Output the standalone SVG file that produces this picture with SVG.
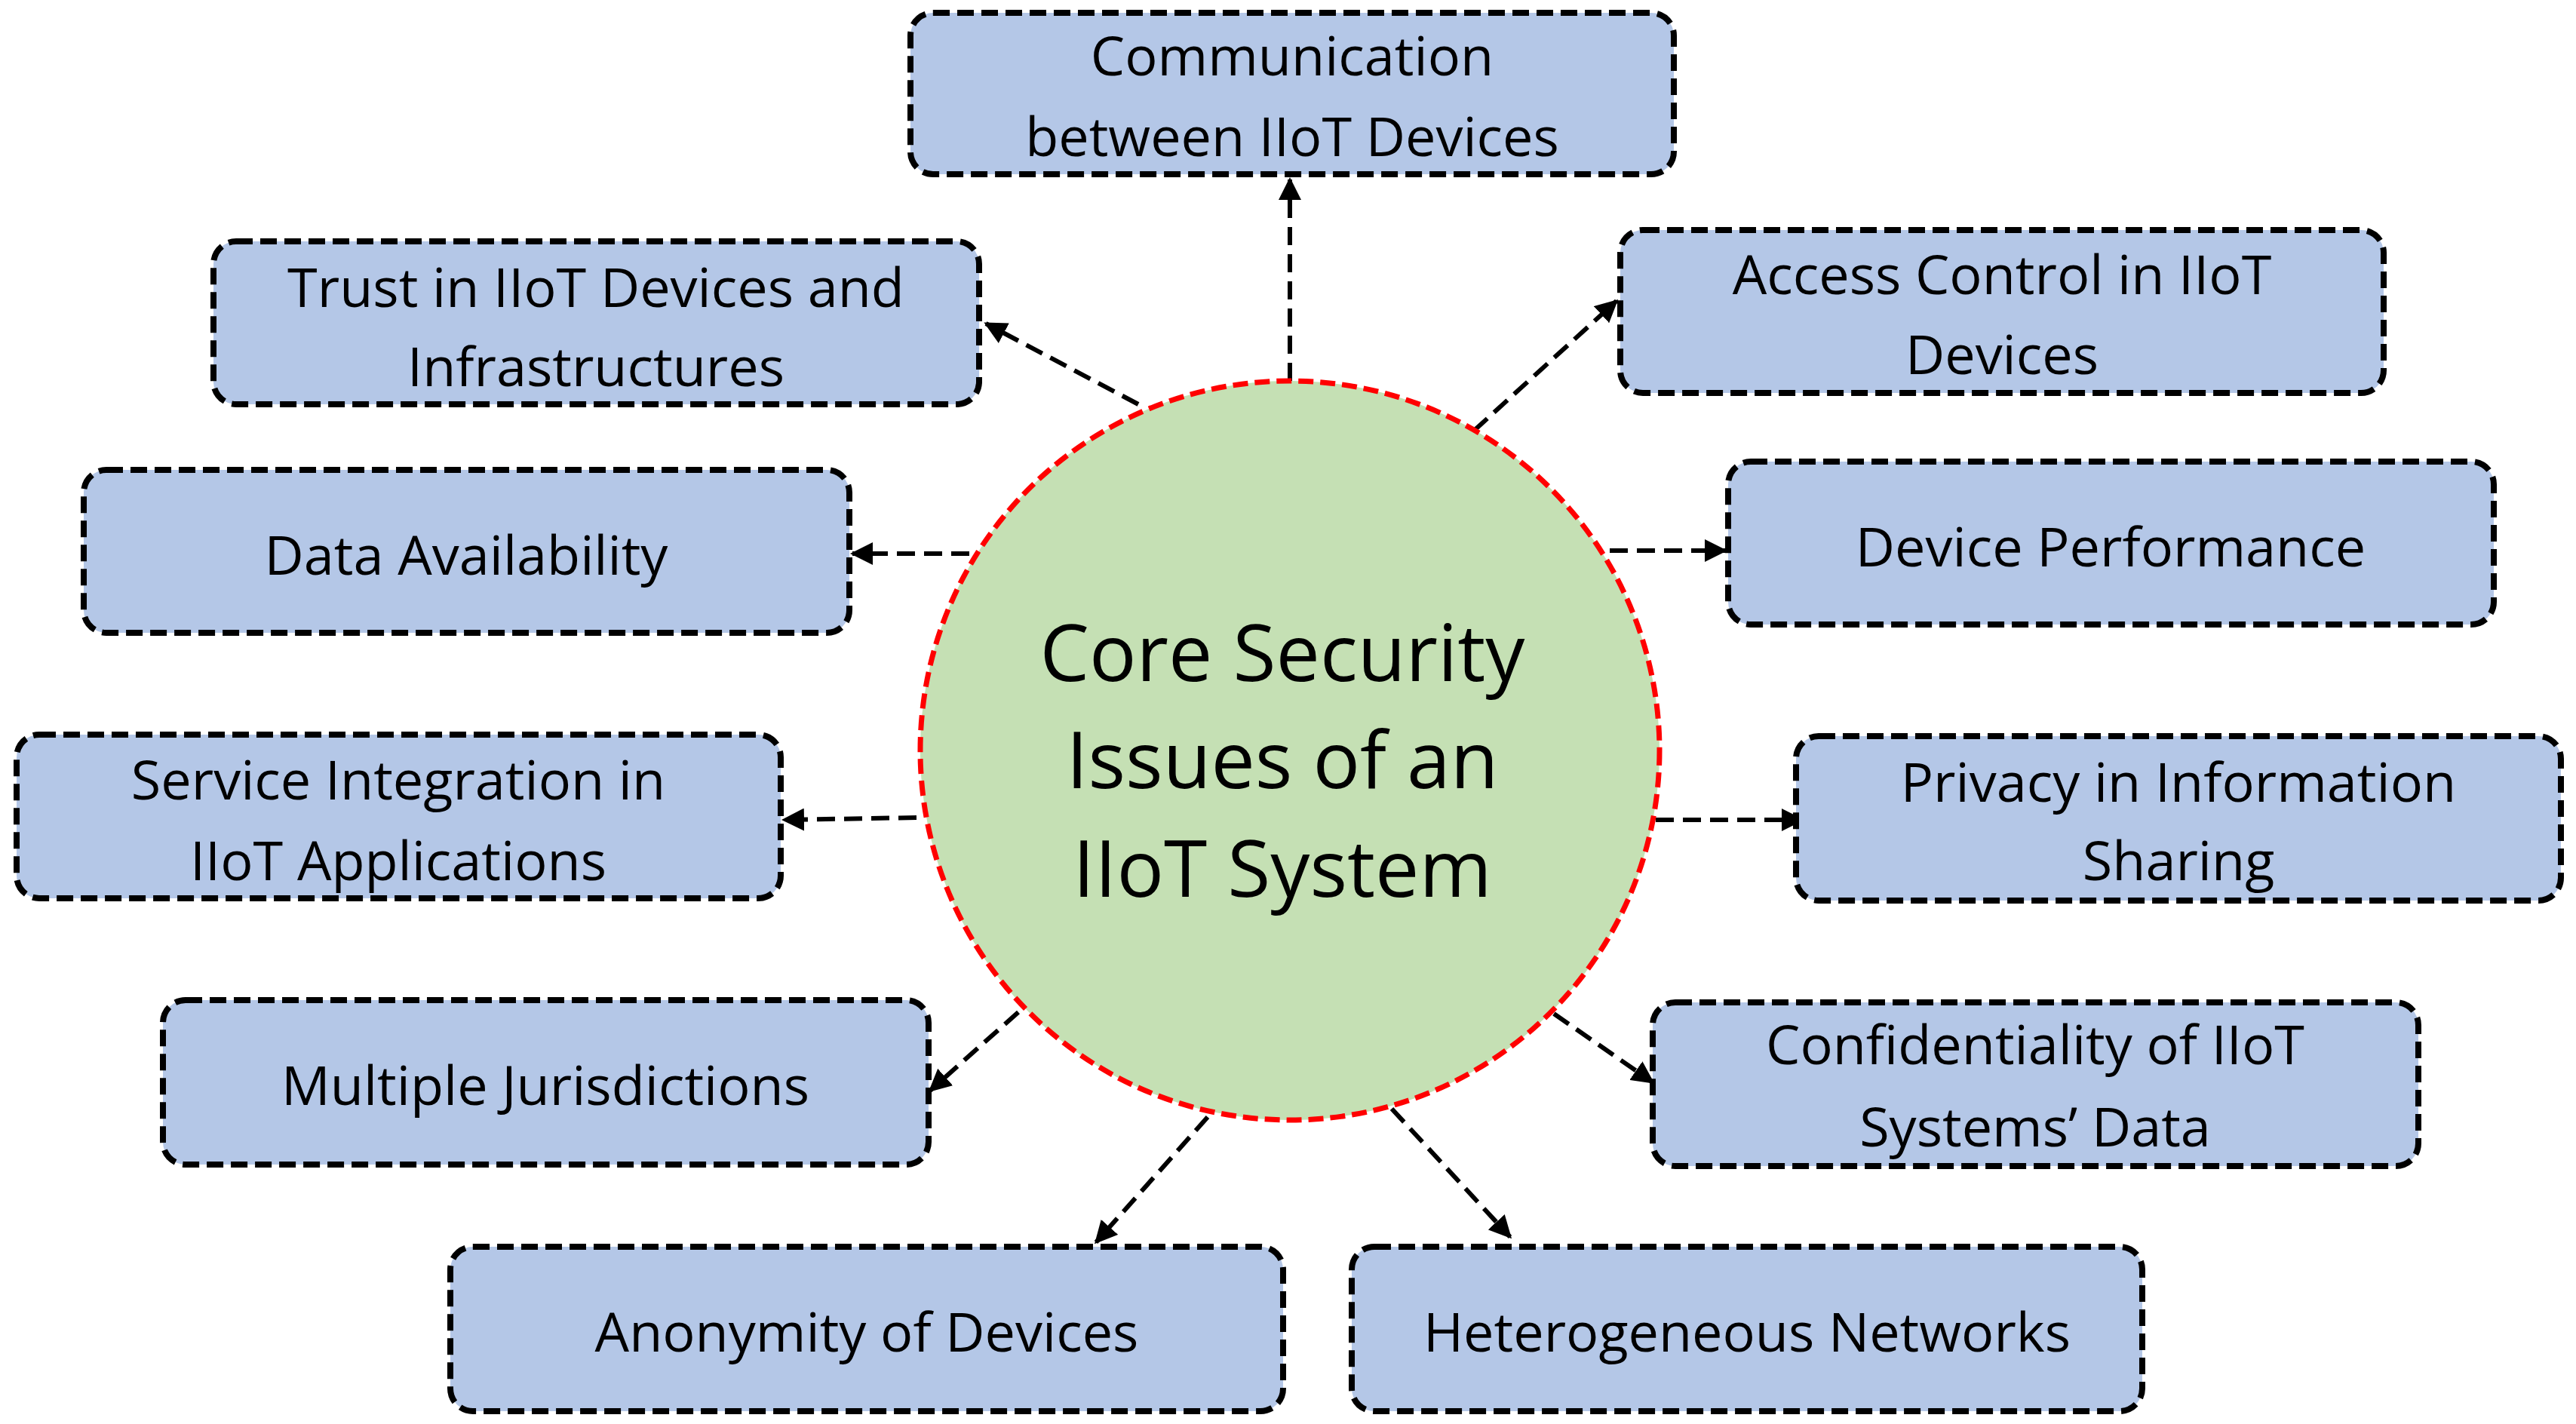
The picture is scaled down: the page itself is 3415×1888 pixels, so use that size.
<svg xmlns="http://www.w3.org/2000/svg" width="3415" height="1888" viewBox="0 0 3415 1888">
<defs>
<marker id="ah" viewBox="0 0 10 10" refX="9" refY="5" markerWidth="5" markerHeight="5" orient="auto" markerUnits="strokeWidth"><path d="M0,0 L10,5 L0,10 z" fill="#000"/></marker>
<style>
.box{fill:#B4C7E7;stroke:#000;stroke-width:8;stroke-dasharray:22,10}
.t{font-family:"Open Sans","Liberation Sans",sans-serif;font-size:72px;fill:#000;text-anchor:middle;dominant-baseline:central}
.c{font-size:104px}
.ar{stroke:#000;stroke-width:6;stroke-dasharray:24,12;fill:none;marker-end:url(#ah)}
</style>
</defs>
<rect width="3415" height="1888" fill="#fff"/>
<g id="connectors">
<line class="ar" x1="1710" y1="505" x2="1710" y2="238"/>
<line class="ar" x1="1509" y1="536" x2="1307" y2="429"/>
<line class="ar" x1="1954" y1="571" x2="2143" y2="399"/>
<line class="ar" x1="1285" y1="734" x2="1130" y2="734"/>
<line class="ar" x1="2134" y1="730" x2="2287" y2="730"/>
<line class="ar" x1="1215" y1="1084" x2="1039" y2="1087"/>
<line class="ar" x1="2195" y1="1087" x2="2389" y2="1087"/>
<line class="ar" x1="1350" y1="1342" x2="1233" y2="1446"/>
<line class="ar" x1="2060" y1="1344" x2="2191" y2="1435"/>
<line class="ar" x1="1601" y1="1481" x2="1453" y2="1647"/>
<line class="ar" x1="1845" y1="1470" x2="2002" y2="1640"/>
</g>
<g id="center"><circle cx="1710" cy="995" r="490" fill="#C5E0B4" stroke="#FF0000" stroke-width="7" stroke-dasharray="20,9"/>
<text class="t c" x="1700" y="862">Core Security</text><text class="t c" x="1700" y="1004">Issues of an</text><text class="t c" x="1700" y="1148">IIoT System</text></g>
<g id="n1"><rect class="box" x="1207" y="17" width="1012" height="214" rx="30"/><text class="t" x="1713" y="72">Communication</text><text class="t" x="1713" y="179">between IIoT Devices</text></g>
<g id="n2"><rect class="box" x="283" y="320" width="1015" height="216" rx="30"/><text class="t" x="790" y="379">Trust in IIoT Devices and</text><text class="t" x="790" y="484">Infrastructures</text></g>
<g id="n3"><rect class="box" x="2148" y="305" width="1012" height="216" rx="30"/><text class="t" x="2654" y="362">Access Control in IIoT</text><text class="t" x="2654" y="468">Devices</text></g>
<g id="n4"><rect class="box" x="111" y="623" width="1015" height="216" rx="30"/><text class="t" x="618" y="734">Data Availability</text></g>
<g id="n5"><rect class="box" x="2291" y="612" width="1015" height="216" rx="30"/><text class="t" x="2798" y="723">Device Performance</text></g>
<g id="n6"><rect class="box" x="22" y="974" width="1013" height="217" rx="30"/><text class="t" x="528" y="1032">Service Integration in</text><text class="t" x="528" y="1139">IIoT Applications</text></g>
<g id="n7"><rect class="box" x="2381" y="976" width="1014" height="218" rx="30"/><text class="t" x="2888" y="1035">Privacy in Information</text><text class="t" x="2888" y="1139">Sharing</text></g>
<g id="n8"><rect class="box" x="216" y="1326" width="1015" height="218" rx="30"/><text class="t" x="723" y="1437">Multiple Jurisdictions</text></g>
<g id="n9"><rect class="box" x="2191" y="1329" width="1015" height="217" rx="30"/><text class="t" x="2698" y="1383">Confidentiality of IIoT</text><text class="t" x="2698" y="1492">Systems’ Data</text></g>
<g id="n10"><rect class="box" x="597" y="1653" width="1104" height="218" rx="30"/><text class="t" x="1149" y="1764">Anonymity of Devices</text></g>
<g id="n11"><rect class="box" x="1792" y="1653" width="1048" height="218" rx="30"/><text class="t" x="2316" y="1764">Heterogeneous Networks</text></g>
</svg>
